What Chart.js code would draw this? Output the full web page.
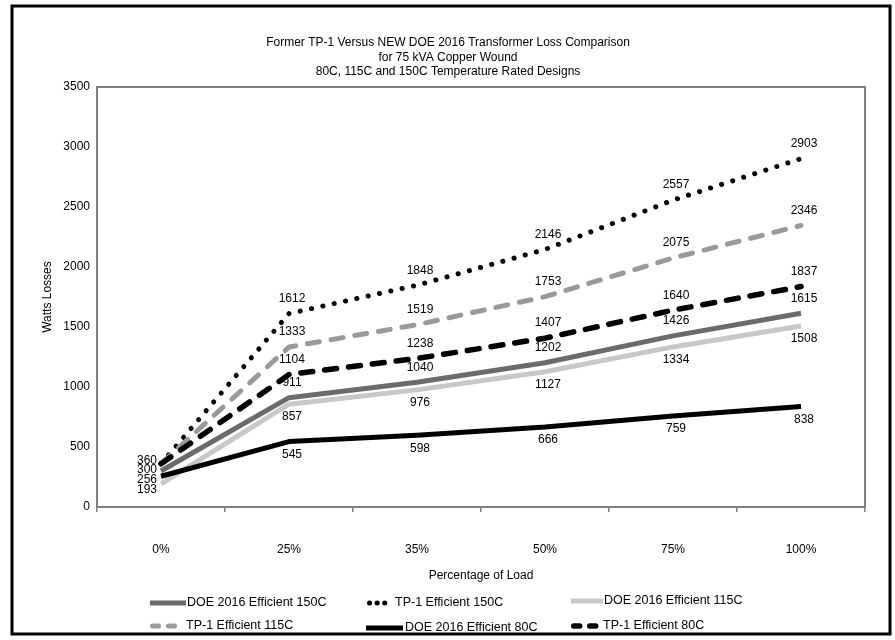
<!DOCTYPE html>
<html>
<head>
<meta charset="utf-8">
<title>Transformer Loss Comparison</title>
<script src="https://cdn.jsdelivr.net/npm/chart.js@4.4.0/dist/chart.umd.min.js"></script>
<style>
  html, body { margin: 0; padding: 0; background: #fff; }
  #canvasDiv { width: 895px; height: 640px; }
</style>
</head>
<body>
<div id="canvasDiv"><canvas id="myChart" width="895" height="640"></canvas></div>
<script>
// values
const loadLabels = ['0%', '25%', '35%', '50%', '75%', '100%'];
const doe150 = [300, 911, 1040, 1202, 1426, 1615];
const tp150 = [360, 1612, 1848, 2146, 2557, 2903];
const doe115 = [193, 857, 976, 1127, 1334, 1508];
const tp115 = [360, 1333, 1519, 1753, 2075, 2346];
const doe80 = [256, 545, 598, 666, 759, 838];
const tp80 = [360, 1104, 1238, 1407, 1640, 1837];
const seriesNames = ['DOE 2016 Efficient 150C', 'TP-1 Efficient 150C', 'DOE 2016 Efficient 115C',
                     'TP-1 Efficient 115C', 'DOE 2016 Efficient 80C', 'TP-1 Efficient 80C'];
const yTicks = [0, 500, 1000, 1500, 2000, 2500, 3000, 3500];
const titleLines = ['Former TP-1 Versus NEW DOE 2016 Transformer Loss Comparison',
                    'for 75 kVA Copper Wound',
                    '80C, 115C and 150C Temperature Rated Designs'];
const xTitle = 'Percentage of Load';
const yTitle = 'Watts Losses';

const FONT = '"Liberation Sans", Arial, Helvetica, sans-serif';

// line looks + where the value labels go
const lineStyles = [
    {color: '#6b6b6b', width: 5, dash: [], cap: 'butt', side: -1, firstDy: -1, legDash: []},
    {color: '#000000', width: 5, dash: [0.1, 11.5], cap: 'round', side: -1, firstDy: -3, legDash: [0.1, 7.5]},
    {color: '#c8c8c8', width: 5, dash: [], cap: 'butt', side: 1, firstDy: 6, legDash: []},
    {color: '#9a9a9a', width: 5, dash: [12, 12], cap: 'round', side: -1, firstDy: -3, legDash: [6, 10]},
    {color: '#000000', width: 5, dash: [], cap: 'butt', side: 1, firstDy: 3, legDash: []},
    {color: '#000000', width: 5.5, dash: [12, 12], cap: 'round', side: -1, firstDy: -3, legDash: [6, 10]}
];

// legend slots: swatch start, swatch length, text start, row
const legendSlots = [
    {x: 150, len: 36, tx: 187, y: 603},
    {x: 367, len: 23, tx: 395, y: 603},
    {x: 571, len: 32, tx: 604, y: 601},
    {x: 150, len: 28, tx: 186, y: 626},
    {x: 366, len: 37, tx: 405, y: 628},
    {x: 571, len: 28, tx: 603, y: 626}
];

let ctx = document.getElementById('myChart').getContext('2d');
let allSeries = [doe150, tp150, doe115, tp115, doe80, tp80];

let datasets = allSeries.map(function (vals, i) {
    let st = lineStyles[i];
    return {
        label: seriesNames[i],
        data: vals,
        borderColor: st.color,
        backgroundColor: st.color,
        borderWidth: st.width,
        borderDash: st.dash,
        borderCapStyle: st.cap,
        borderJoinStyle: 'round',
        pointRadius: 0,
        fill: false,
        tension: 0,
        order: allSeries.length - i   // later series on top, like the original
    };
});

const extras = {
    id: 'extras',
    beforeDraw(chart) {
        let c = chart.ctx;
        c.save();
        c.fillStyle = '#fff';
        c.fillRect(0, 0, chart.width, chart.height);
        c.restore();
    },
    beforeDatasetsDraw(chart) {
        let a = chart.chartArea;
        let c = chart.ctx;
        c.save();
        c.strokeStyle = '#808080';
        c.lineWidth = 2;
        c.strokeRect(a.left, a.top, a.right - a.left, a.bottom - a.top);
        c.restore();
    },
    afterDatasetsDraw(chart) {
        let c = chart.ctx;
        let seenFirst = [];
        c.save();
        c.font = '12px ' + FONT;
        c.fillStyle = '#000';
        c.textBaseline = 'middle';
        chart.data.datasets.forEach(function (ds, i) {
            let meta = chart.getDatasetMeta(i);
            let st = lineStyles[i];
            meta.data.forEach(function (pt, j) {
                let txt = String(ds.data[j]);
                if (j === 0) {
                    // same start values sit on top of each other, write them once
                    if (seenFirst.indexOf(txt) >= 0) return;
                    seenFirst.push(txt);
                    c.textAlign = 'right';
                    c.fillText(txt, pt.x - 4, pt.y + st.firstDy);
                } else {
                    c.textAlign = 'center';
                    let dy = st.side < 0 ? -15 : 13;
                    c.fillText(txt, pt.x + 3, pt.y + dy);
                }
            });
        });
        c.restore();
    },
    afterDraw(chart) {
        let c = chart.ctx;
        c.save();
        // outer frame
        c.strokeStyle = '#000';
        c.lineWidth = 3;
        c.strokeRect(12, 6, 878, 628);
        // title
        c.fillStyle = '#000';
        c.font = '12px ' + FONT;
        c.textAlign = 'center';
        c.textBaseline = 'middle';
        titleLines.forEach(function (t, k) {
            c.fillText(t, 448, 43 + k * 14.5);
        });
        // legend
        c.textAlign = 'left';
        c.font = '12.5px ' + FONT;
        chart.data.datasets.forEach(function (ds, i) {
            let st = lineStyles[i];
            let s = legendSlots[i];
            let capPad = st.cap === 'round' ? st.width / 2 : 0;
            c.beginPath();
            c.strokeStyle = st.color;
            c.lineWidth = st.width;
            c.lineCap = st.cap;
            c.setLineDash(st.legDash);
            c.moveTo(s.x + capPad, s.y);
            c.lineTo(s.x + s.len - capPad, s.y);
            c.stroke();
            c.setLineDash([]);
            c.fillText(ds.label, s.tx, s.y);
        });
        c.restore();
    }
};

let myChart = new Chart(ctx, {
    type: 'line',
    data: {
        labels: loadLabels,
        datasets: datasets
    },
    options: {
        responsive: false,
        animation: false,
        devicePixelRatio: 1,
        layout: {padding: {left: 12, top: 87, right: 30, bottom: 0}},
        plugins: {
            legend: {display: false},
            title: {display: false},
            tooltip: {enabled: false}
        },
        scales: {
            x: {
                offset: true,
                grid: {display: true, drawOnChartArea: false, drawTicks: true, tickLength: 5,
                       color: '#808080', lineWidth: 1.5, offset: true},
                border: {display: false},
                ticks: {color: '#000', font: {family: FONT, size: 12}, padding: 30},
                title: {display: true, text: xTitle, color: '#000',
                        font: {family: FONT, size: 12}, padding: {top: 0, bottom: 57}},
                afterFit: function (scale) { scale.height = 133; }
            },
            y: {
                min: yTicks[0],
                max: yTicks[yTicks.length - 1],
                grid: {display: false, drawTicks: false},
                border: {display: false},
                ticks: {stepSize: yTicks[1] - yTicks[0], color: '#000',
                        font: {family: FONT, size: 12}, padding: 7,
                        callback: function (v) { return String(v); }},
                title: {display: true, text: yTitle, color: '#000',
                        font: {family: FONT, size: 12}, padding: {top: 28, bottom: 0}},
                afterFit: function (scale) { scale.width = 85; }
            }
        }
    },
    plugins: [extras]
});
</script>
</body>
</html>
